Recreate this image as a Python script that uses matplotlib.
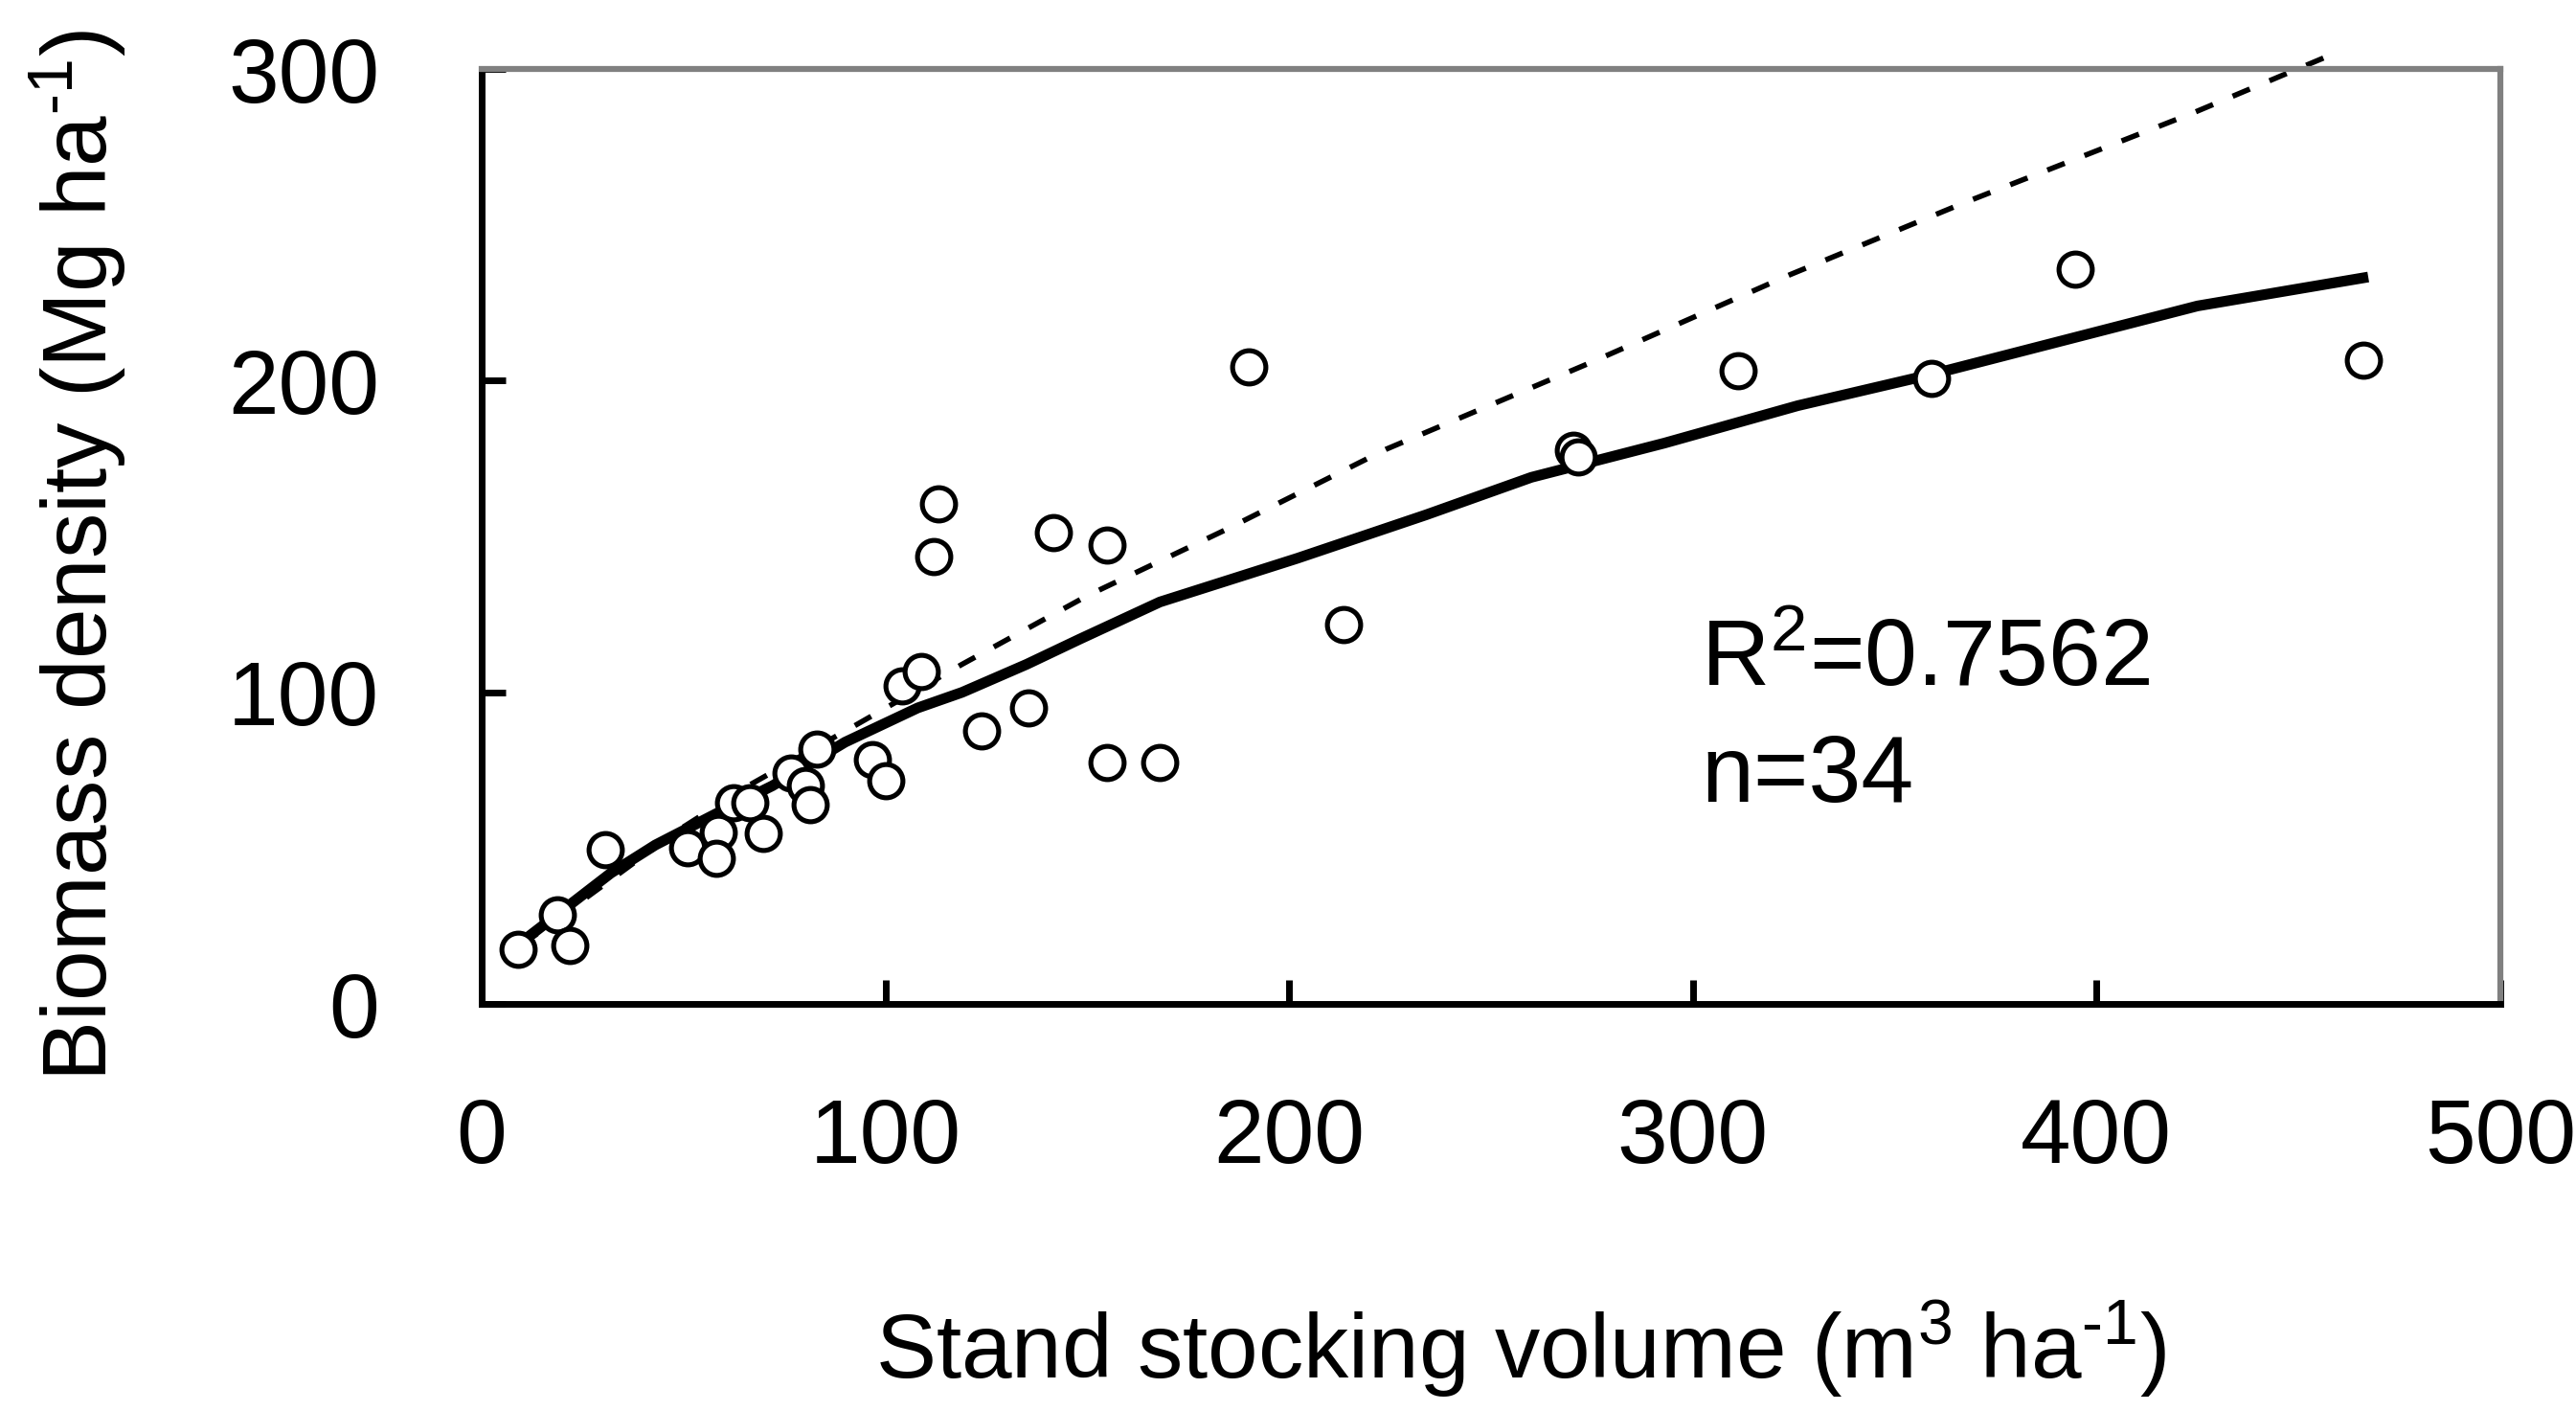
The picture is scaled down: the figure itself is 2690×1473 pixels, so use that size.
import numpy as np
import matplotlib.pyplot as plt

plt.rcParams['font.family'] = ['Liberation Sans', 'DejaVu Sans']
plt.rcParams['mathtext.fontset'] = 'custom'
plt.rcParams['mathtext.rm'] = 'Liberation Sans'
plt.rcParams['mathtext.default'] = 'regular'

# observed plots (stand volume, biomass)
vol = [9.0, 18.7, 21.7, 30.6, 51.1, 58.5, 58.2, 62.3, 66.4, 69.7,
       76.6, 80.2, 81.4, 83.0, 96.8, 100.0, 104.1, 108.8, 123.9, 135.5,
       112.0, 113.2, 141.6, 155.0, 154.8, 167.9, 189.9, 213.5, 270.5, 271.6,
       311.2, 359.1, 394.6, 466.2]
bio = [17.4, 28.7, 18.9, 49.4, 50.2, 55.0, 46.6, 64.5, 64.5, 54.8,
       74.0, 70.0, 64.0, 81.9, 78.3, 71.6, 102.2, 106.6, 87.5, 95.0,
       143.7, 160.6, 151.3, 147.3, 77.4, 77.4, 204.4, 121.6, 177.6, 175.5,
       203.1, 200.8, 235.7, 206.5]

# fitted curve (solid)
fit_x = [10, 22, 32, 43, 58, 72, 90, 108, 119, 135, 148, 168, 202, 234,
         260, 293, 326, 359, 392, 425, 466]
fit_y = [20, 32, 42, 51, 61, 70, 84, 95, 100, 109, 117, 129, 143, 157,
         169, 180, 192, 202, 213, 224, 233]

# second fit (dashed)
dash_x = [10, 49, 66, 92, 119, 150, 184, 224, 275, 324, 367, 424, 457]
dash_y = [19, 56, 70, 89, 109, 131, 152, 178, 206, 234, 257, 286, 304]

fig = plt.figure(figsize=(26.9, 14.73), dpi=100)
ax = fig.add_axes([0.187, 0.2885, 0.7836, 0.6625])

ax.plot(dash_x, dash_y, color='black', lw=4, linestyle=(0, (3.5, 4)),
        clip_on=False, zorder=2)
ax.plot(fit_x, fit_y, color='black', lw=8, zorder=3)
ax.plot(vol, bio, 'o', ms=25, mfc='white', mec='black', mew=3.7, zorder=4)

ax.set_xlim(0, 500)
ax.set_ylim(0, 300)
ax.set_xticks(np.arange(0, 501, 100))
ax.set_yticks(np.arange(0, 301, 100))
ax.tick_params(direction='in', length=18, width=5, labelsize=68)
ax.tick_params(axis='x', pad=70)
ax.tick_params(axis='y', pad=77)

for s in ['left', 'bottom']:
    ax.spines[s].set_linewidth(5)
    ax.spines[s].set_color('black')
for s in ['top', 'right']:
    ax.spines[s].set_linewidth(4.5)
    ax.spines[s].set_color('#808080')

ax.set_xlabel(r'Stand stocking volume (m$^{3}$ ha$^{\text{-1}}$)', fontsize=68)
ax.set_ylabel(r'Biomass density (Mg ha$^{\text{-1}}$)', fontsize=68)
ax.xaxis.set_label_coords(0.515, -0.315)
ax.yaxis.set_label_coords(-0.175, 0.48)

ax.text(302, 102, 'R$^{2}$=0.7562', fontsize=71, ha='left', va='baseline')
ax.text(302, 65, 'n=34', fontsize=71, ha='left', va='baseline')

fig.savefig('out.png', dpi=100)
